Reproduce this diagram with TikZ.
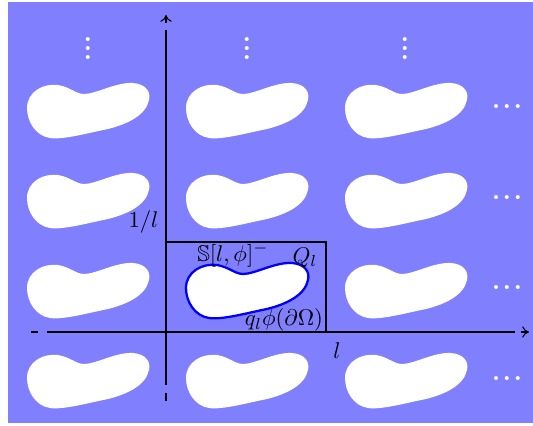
\documentclass[tikz,border=0pt]{standalone}
\usepackage{amsmath}
\usepackage{amssymb}
\usepackage{xcolor}
\usetikzlibrary{arrows.meta}

\newcommand{\rowdots}{.\kern1pt.\kern1pt.}

\begin{document}
\begin{tikzpicture}[
        x=0.44pt, y=-0.44pt,
        cell/.pic={\path[pic actions] (-61,-2)
                .. controls (-61,-18) and (-45,-27) .. (-30,-25)
                .. controls (-18,-23) and (-12,-16) .. (-4,-16)
                .. controls (8,-16) and (28,-28) .. (45,-27)
                .. controls (58,-26) and (63,-18) .. (61,-10)
                .. controls (58,5) and (40,14) .. (20,19)
                .. controls (0,23) and (-25,30) .. (-38,28)
                .. controls (-52,26) and (-61,12) .. (-61,-2) -- cycle;},
        axis/.style={line width=0.45pt, black},
        tip/.style={-{To[length=3pt,width=5pt]}},
        dots/.style={text=white, inner sep=0pt, font=\large\bfseries},
        lbl/.style={inner sep=0pt}
    ]
        \useasboundingbox (0,0) rectangle (533,426);
        \fill[blue!50] (8,2) rectangle (533,423);

        % periodic copies
        \foreach \cx in {88,247,406}
            \foreach \cy in {110,200,290,380}
                \pic[fill=white] at (\cx,\cy) {cell};
        \pic[fill=white, draw=blue, line width=1pt] at (247,290) {cell};

        \foreach \cx in {88,247,405}
            \node[dots, anchor=base] at (\cx,59.5) {\vdots};
        \foreach \cy in {106,197,287,378}
            \node[dots, anchor=base] at (507,\cy+2.5) {\rowdots};

        % axes
        \coordinate (O) at (166,332);
        \draw[axis] (31,332) -- (38,332);
        \draw[axis] (47,332) -- (515,332);
        \draw[axis, tip] (521,332) -- (529,332);
        \draw[axis] (166,393) -- (166,401);
        \draw[axis] (166,385) -- (166,30);
        \draw[axis, tip] (166,23) -- (166,15);

        % fundamental cell
        \draw[line width=0.45pt] (O) rectangle (326,242);

        \node[lbl] at (143.5,222) {$1/l$};
        \node[lbl] at (337,351) {$l$};
        \node[lbl] at (233,255) {$\mathbb{S}[l,\phi]^-$};
        \node[lbl] at (305,258) {$Q_l$};
        \node[lbl] at (284,320) {$q_l\phi(\partial\Omega)$};
    \end{tikzpicture}
\end{document}
